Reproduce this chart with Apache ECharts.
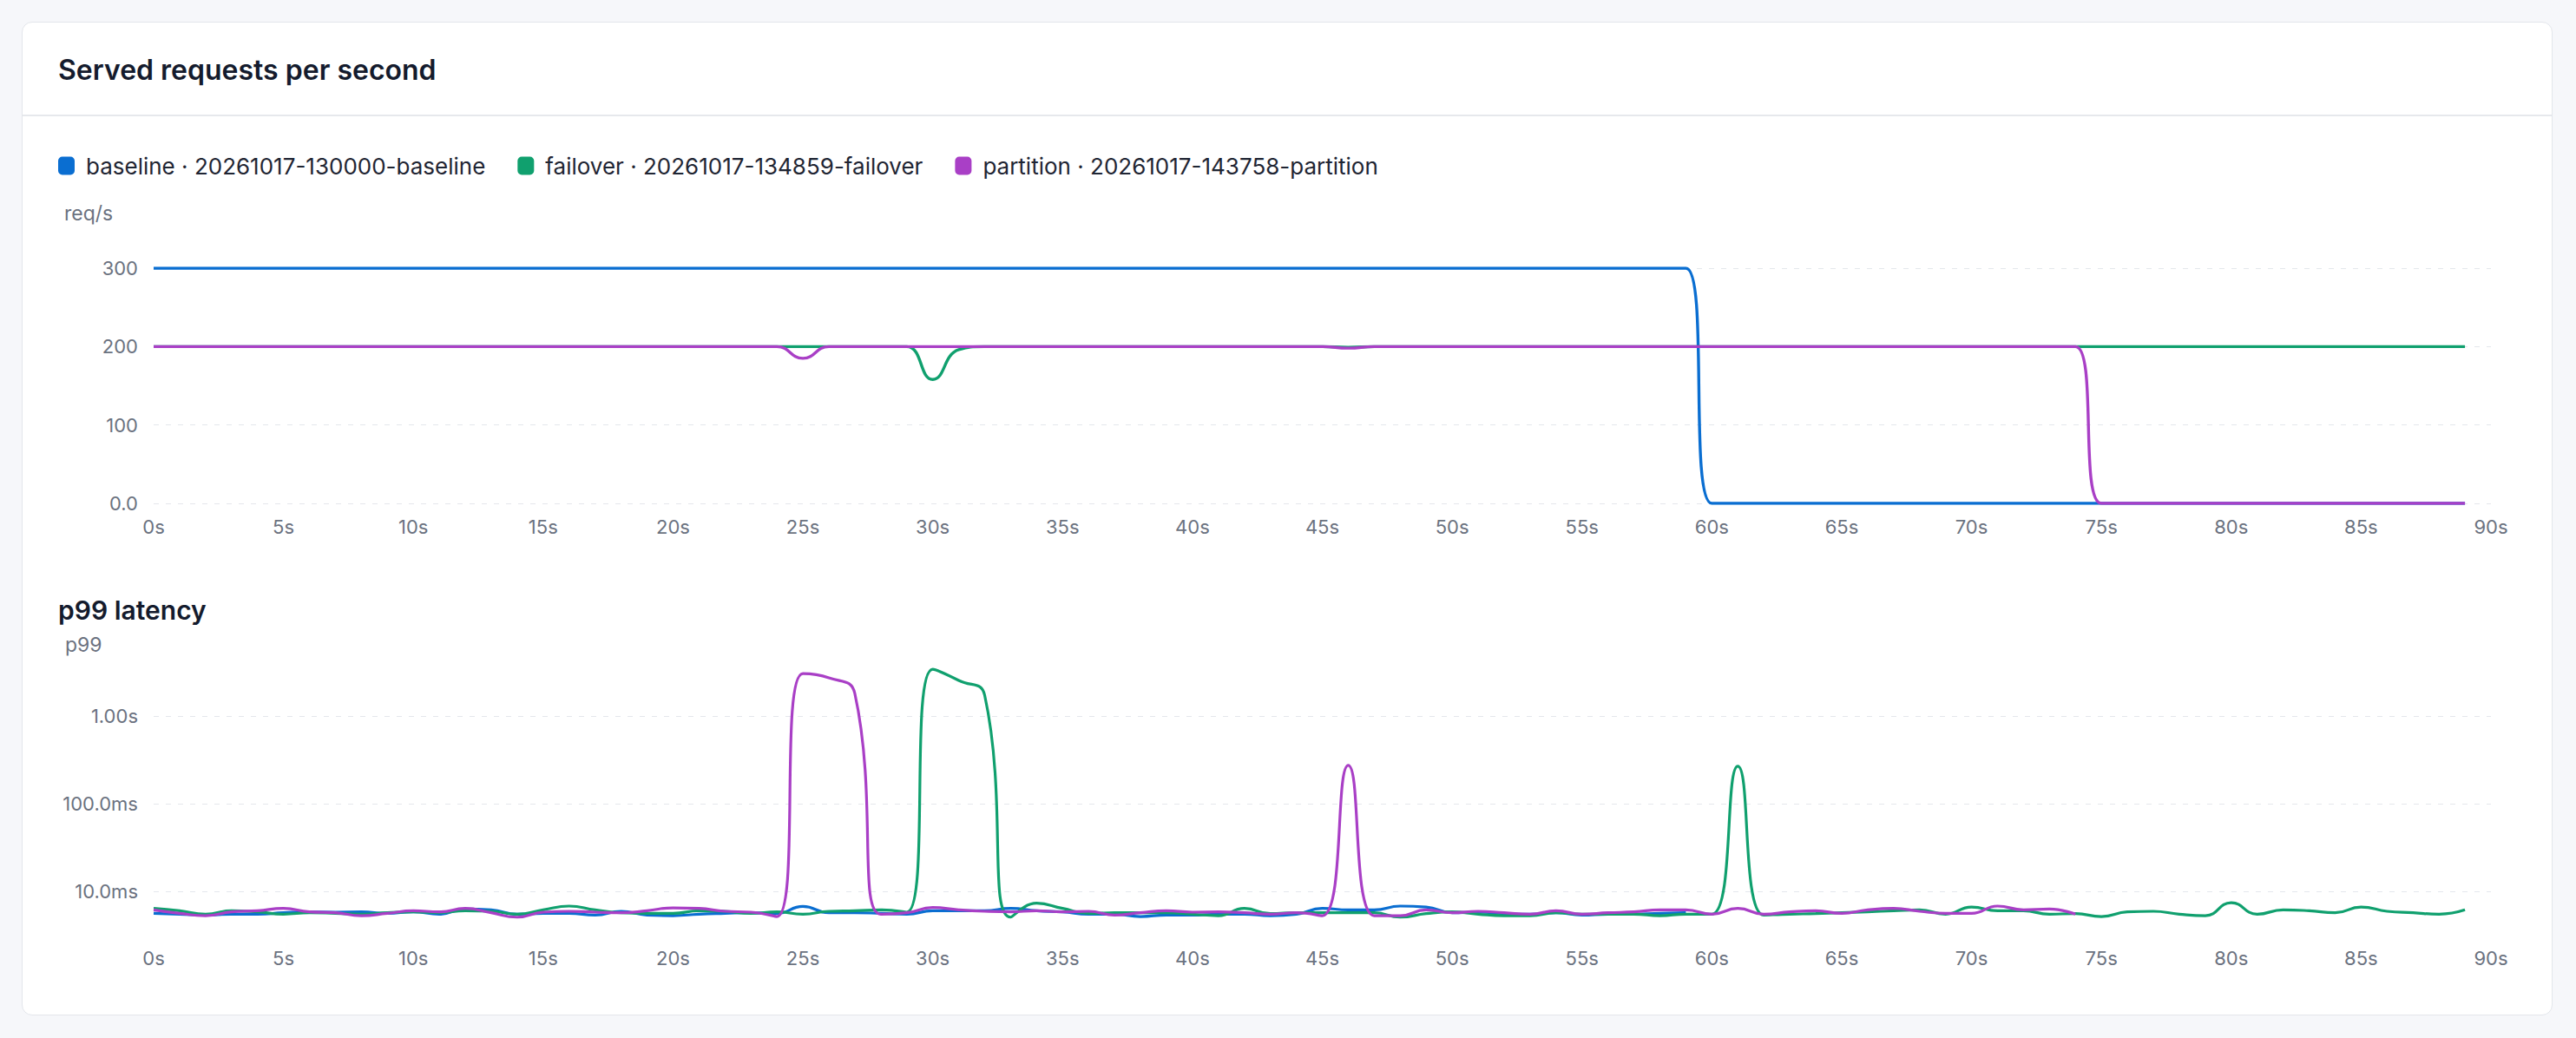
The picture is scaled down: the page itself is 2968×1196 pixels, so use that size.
<!DOCTYPE html>
<html>
<head>
<meta charset="utf-8">
<script src="https://cdn.jsdelivr.net/npm/echarts@6/dist/echarts.min.js"></script>
<style>
  html, body { margin: 0; padding: 0; width: 2968px; height: 1196px; background: #f6f7fa; overflow: hidden; font-family: Inter, "Noto Sans", sans-serif; }
  #card { position: absolute; left: 25px; top: 25px; width: 2916px; height: 1145px; background: #ffffff; border: 1px solid #e3e6eb; border-radius: 12px; box-sizing: border-box; }
  #header { position: absolute; left: 0; top: 0; right: 0; height: 106px; border-bottom: 2px solid #e6e8ec; }
  #title { position: absolute; left: 41px; top: 54px; transform: translateY(-50%); font: 600 32px Inter, sans-serif; color: #141b2d; white-space: nowrap; }
  #chart { position: absolute; left: 0; top: 0; width: 2968px; height: 1196px; }
</style>
</head>
<body>
<div id="card"><div id="header"><div id="title">Served requests per second</div></div></div>
<div id="chart"></div>
<script>
// ---- data (one sample per second) ----
const seriesNames = [
  'baseline · 20261017-130000-baseline',
  'failover · 20261017-134859-failover',
  'partition · 20261017-143758-partition'
];
const seriesColors = ['#0a6ed1', '#10a06e', '#a93fc6'];
const xTicksSeconds = [0, 5, 10, 15, 20, 25, 30, 35, 40, 45, 50, 55, 60, 65, 70, 75, 80, 85, 90];

// served requests per second
const baselineRps = [
  300,300,300,300,300,300,300,300,300,300,
  300,300,300,300,300,300,300,300,300,300,
  300,300,300,300,300,300,300,300,300,300,
  300,300,300,300,300,300,300,300,300,300,
  300,300,300,300,300,300,300,300,300,300,
  300,300,300,300,300,300,300,300,300,300,
  0,0,0,0,0,0,0,0,0,0,
  0,0,0,0,0,0,0,0,0,0,
  0,0,0,0,0,0,0,0,0,0
];
const failoverRps = [
  200,200,200,200,200,200,200,200,200,200,
  200,200,200,200,200,200,200,200,200,200,
  200,200,200,200,200,200,200,200,200,200,
  158,196,200,200,200,200,200,200,200,200,
  200,200,200,200,200,200,199,200,200,200,
  200,200,200,200,200,200,200,200,200,200,
  200,200,200,200,200,200,200,200,200,200,
  200,200,200,200,200,200,200,200,200,200,
  200,200,200,200,200,200,200,200,200,200
];
const partitionRps = [
  200,200,200,200,200,200,200,200,200,200,
  200,200,200,200,200,200,200,200,200,200,
  200,200,200,200,200,185,200,200,200,200,
  200,200,200,200,200,200,200,200,200,200,
  200,200,200,200,200,200,198,200,200,200,
  200,200,200,200,200,200,200,200,200,200,
  200,200,200,200,200,200,200,200,200,200,
  200,200,200,200,200,0,0,0,0,0,
  0,0,0,0,0,0,0,0,0,0
];

// p99 latency, milliseconds
const baselineP99 = [
  5.61,5.49,5.36,5.49,5.49,5.70,5.83,5.79,5.83,5.61,
  5.83,5.49,6.29,6.15,5.49,5.61,5.61,5.36,5.92,5.36,
  5.28,5.49,5.61,5.70,5.61,6.74,5.70,5.70,5.61,5.49,
  6.01,6.01,6.01,6.39,6.01,5.83,5.49,5.49,5.16,5.36,
  5.36,5.49,5.49,5.28,5.49,6.39,6.15,6.15,6.79,6.63,
  5.70,5.79,5.57,5.49,5.70,5.36,5.49,5.49,5.61,5.70
];
const failoverP99 = [
  6.39,6.01,5.49,6.01,5.83,5.49,5.70,5.61,5.49,5.70,
  5.83,5.70,6.01,5.92,5.49,6.15,6.79,6.15,5.70,5.61,
  5.61,6.01,5.92,5.61,5.83,5.49,5.92,6.01,6.15,5.79,
  3420,2550,1730,5.08,7.32,6.39,5.61,5.70,5.70,5.70,
  5.49,5.28,6.39,5.57,5.70,5.70,5.70,5.70,5.08,5.57,
  5.83,5.49,5.28,5.28,5.70,5.49,5.49,5.49,5.28,5.49,
  5.49,267,5.36,5.49,5.57,5.70,5.83,6.01,6.15,5.49,
  6.63,6.01,6.01,5.49,5.57,5.16,5.83,5.92,5.49,5.28,
  7.43,5.49,6.15,6.01,5.70,6.63,5.92,5.70,5.49,6.15
];
const partitionP99 = [
  6.15,5.61,5.28,5.83,6.01,6.39,5.83,5.70,5.28,5.61,
  6.01,5.83,6.39,5.70,5.08,5.79,5.92,5.79,5.70,6.01,
  6.48,6.39,5.92,5.79,5.16,3050,2730,1810,5.49,5.70,
  6.53,6.15,5.92,5.83,6.01,5.83,5.92,5.36,5.70,6.01,
  5.79,5.83,5.70,5.49,5.70,5.28,273,5.28,5.28,6.15,
  5.70,5.92,5.70,5.49,6.01,5.49,5.70,5.83,6.15,6.15,
  5.49,6.39,5.49,5.83,6.01,5.61,6.15,6.39,5.92,5.61,
  5.61,6.79,6.15,6.29,5.49
];

const rpsTicks = [0, 100, 200, 300];
const p99Range = [3.2, 3840];

// ---- chart ----
const SAMPLE_STEP_S = 1;
const toPairs = arr => arr.map((v, i) => [i * SAMPLE_STEP_S, v]);

const FONT = 'Inter, "Noto Sans", sans-serif';
const LABEL_COLOR = '#6b7280';
const GRID_LINE = { show: true, lineStyle: { color: '#e4e7ec', width: 1.2, type: [6, 8] } };

function xAxisFor(gridIndex) {
  return {
    type: 'value', gridIndex,
    min: xTicksSeconds[0], max: xTicksSeconds[xTicksSeconds.length - 1], interval: 5,
    axisLine: { show: false }, axisTick: { show: false }, splitLine: { show: false },
    axisLabel: { color: LABEL_COLOR, fontSize: 22, fontFamily: FONT, margin: 16, formatter: v => v + 's' }
  };
}

function lineSeries(name, color, data, xi, yi, w) {
  return {
    name, type: 'line', xAxisIndex: xi, yAxisIndex: yi,
    data: toPairs(data), smooth: true, showSymbol: false, symbol: 'none',
    lineStyle: { color, width: w }, itemStyle: { color },
    emphasis: { disabled: true }, animation: false
  };
}

const chart = echarts.init(document.getElementById('chart'), null, { renderer: 'svg', width: 2968, height: 1196 });
chart.setOption({
  animation: false,
  textStyle: { fontFamily: FONT },
  color: seriesColors,
  legend: {
    data: seriesNames, left: 67, top: 178, padding: 0,
    icon: 'roundRect', itemWidth: 19, itemHeight: 21, itemGap: 37,
    textStyle: { fontSize: 26, color: '#1f2533', fontFamily: FONT, padding: [0, 0, 0, 8] }
  },
  graphic: [
    { type: 'text', x: 74, y: 246, silent: true, style: { text: 'req/s', font: '23px ' + FONT, fill: LABEL_COLOR, verticalAlign: 'middle', textVerticalAlign: 'middle' } },
    { type: 'text', x: 67, y: 703, silent: true, style: { text: 'p99 latency', font: '600 30px ' + FONT, fill: '#141b2d', verticalAlign: 'middle', textVerticalAlign: 'middle' } },
    { type: 'text', x: 75, y: 743, silent: true, style: { text: 'p99', font: '23px ' + FONT, fill: LABEL_COLOR, verticalAlign: 'middle', textVerticalAlign: 'middle' } }
  ],
  grid: [
    { left: 177, right: 98, top: 309, height: 271, outerBoundsMode: 'none' },
    { left: 177, right: 98, top: 766, height: 311, outerBoundsMode: 'none' }
  ],
  xAxis: [xAxisFor(0), xAxisFor(1)],
  yAxis: [
    {
      type: 'value', gridIndex: 0,
      min: rpsTicks[0], max: rpsTicks[rpsTicks.length - 1], interval: 100,
      axisLine: { show: false }, axisTick: { show: false },
      splitLine: GRID_LINE,
      axisLabel: { color: LABEL_COLOR, fontSize: 22, fontFamily: FONT, margin: 18,
        formatter: v => (v === 0 ? v.toFixed(1) : String(v)) }
    },
    {
      type: 'log', logBase: 10, gridIndex: 1,
      min: p99Range[0], max: p99Range[1],
      axisLine: { show: false }, axisTick: { show: false },
      splitLine: Object.assign({ showMinLine: false, showMaxLine: false }, GRID_LINE),
      axisLabel: { color: LABEL_COLOR, fontSize: 22, fontFamily: FONT, margin: 18,
        showMinLabel: false, showMaxLabel: false,
        formatter: v => (v >= 1000 ? (v / 1000).toFixed(2) + 's' : v.toFixed(1) + 'ms') }
    }
  ],
  series: [
    lineSeries(seriesNames[0], seriesColors[0], baselineRps, 0, 0, 3.4),
    lineSeries(seriesNames[1], seriesColors[1], failoverRps, 0, 0, 3.4),
    lineSeries(seriesNames[2], seriesColors[2], partitionRps, 0, 0, 3.4),
    lineSeries(seriesNames[0], seriesColors[0], baselineP99, 1, 1, 3.2),
    lineSeries(seriesNames[1], seriesColors[1], failoverP99, 1, 1, 3.2),
    lineSeries(seriesNames[2], seriesColors[2], partitionP99, 1, 1, 3.2)
  ]
});
</script>
</body>
</html>
